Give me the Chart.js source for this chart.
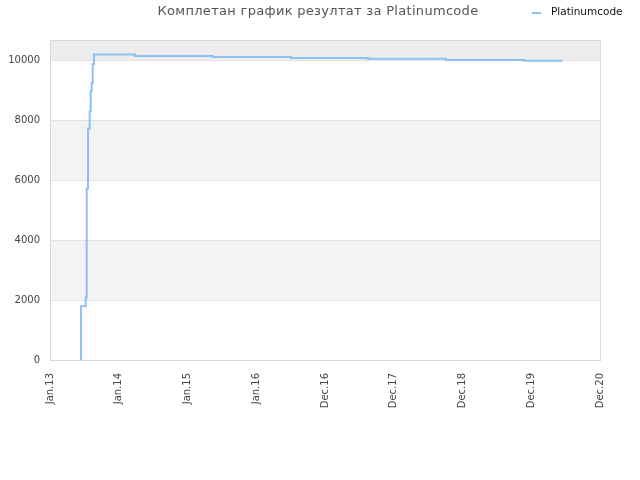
<!DOCTYPE html>
<html>
<head>
<meta charset="utf-8">
<script src="https://cdn.jsdelivr.net/npm/chart.js@4/dist/chart.umd.min.js"></script>
<style>
  html, body { margin: 0; padding: 0; background: #fff; }
  #wrap { width: 640px; height: 480px; }
</style>
</head>
<body>
<div id="wrap"><canvas id="chart" width="640" height="480"></canvas></div>
<script>
// x positions are in tick units (0 = first label, 8 = last label)
const tickLabels = ["Jan.13", "Jan.14", "Jan.15", "Jan.16", "Dec.16", "Dec.17", "Dec.18", "Dec.19", "Dec.20"];
const times = [0.447, 0.451, 0.519, 0.534, 0.553, 0.577, 0.592, 0.607, 0.621, 0.64, 1.236, 2.367, 3.505, 4.625, 5.76, 6.895, 7.457];
const scores = [0, 1790, 2090, 5720, 7720, 8280, 8970, 9230, 9870, 10180, 10130, 10100, 10067, 10043, 10000, 9977, 9977];
const yTicks = [0, 2000, 4000, 6000, 8000, 10000];
const seriesName = "Platinumcode";
const titleText = "Комплетан график резултат за Platinumcode";

const points = times.map((t, i) => ({ x: t, y: scores[i] }));

// shaded bands + frame behind the line, title & legend on top
const decor = {
  id: "decor",
  beforeDatasetsDraw(chart) {
    const { ctx, chartArea: a, scales: { y } } = chart;
    ctx.save();
    const band = (from, to, color) => {
      const top = y.getPixelForValue(to), bot = y.getPixelForValue(from);
      ctx.fillStyle = color;
      ctx.fillRect(a.left, top, a.right - a.left, bot - top);
    };
    band(2000, 4000, "#f3f3f3");
    band(6000, 8000, "#f3f3f3");
    band(10000, y.max, "#ededed");
    ctx.strokeStyle = "#e2e2e2";
    ctx.lineWidth = 1;
    yTicks.slice(1).forEach(v => {
      const py = Math.round(y.getPixelForValue(v)) + 0.5;
      ctx.beginPath(); ctx.moveTo(a.left, py); ctx.lineTo(a.right, py); ctx.stroke();
    });
    ctx.strokeStyle = "#d8d8d8";
    ctx.strokeRect(Math.round(a.left) + 0.5, Math.round(a.top) + 0.5, Math.round(a.right - a.left), Math.round(a.bottom - a.top));
    ctx.restore();
  },
  afterDraw(chart) {
    const ctx = chart.ctx;
    ctx.save();
    ctx.font = "13px 'DejaVu Sans'";
    ctx.letterSpacing = "0.3px";
    ctx.fillStyle = "#555";
    ctx.textAlign = "center";
    ctx.textBaseline = "middle";
    ctx.fillText(titleText, 318, 12);
    ctx.letterSpacing = "0px";
    ctx.strokeStyle = "#8ec1f2";
    ctx.lineWidth = 2;
    ctx.beginPath(); ctx.moveTo(532, 13); ctx.lineTo(541, 13); ctx.stroke();
    ctx.font = "10.5px 'DejaVu Sans'";
    ctx.fillStyle = "#111";
    ctx.textAlign = "left";
    ctx.fillText(seriesName, 551, 12);
    ctx.restore();
  }
};

new Chart(document.getElementById("chart"), {
  type: "line",
  data: {
    datasets: [{
      label: seriesName,
      data: points,
      stepped: "before",
      borderColor: "#8ec1f2",
      borderWidth: 2,
      pointRadius: 0,
      fill: false
    }]
  },
  options: {
    responsive: false,
    animation: false,
    layout: { padding: { top: 40, right: 40, left: 0, bottom: 0 } },
    plugins: { legend: { display: false }, title: { display: false }, tooltip: { enabled: false } },
    scales: {
      x: {
        type: "linear",
        min: 0,
        max: 8,
        afterBuildTicks: s => { s.ticks = tickLabels.map((_, i) => ({ value: i })); },
        afterFit: s => { s.height = 120; },
        grid: { display: false, drawTicks: false },
        border: { display: false },
        ticks: {
          autoSkip: false,
          minRotation: 90,
          maxRotation: 90,
          padding: 13,
          color: "#444",
          font: { family: "DejaVu Sans", size: 10 },
          callback: v => tickLabels[v]
        }
      },
      y: {
        min: 0,
        max: 10667,
        afterBuildTicks: s => { s.ticks = yTicks.map(v => ({ value: v })); },
        afterFit: s => { s.width = 50; },
        grid: { display: false, drawTicks: false },
        border: { display: false },
        ticks: {
          padding: 10,
          color: "#444",
          font: { family: "DejaVu Sans", size: 10 },
          callback: v => String(v)
        }
      }
    }
  },
  plugins: [decor]
});
</script>
</body>
</html>
